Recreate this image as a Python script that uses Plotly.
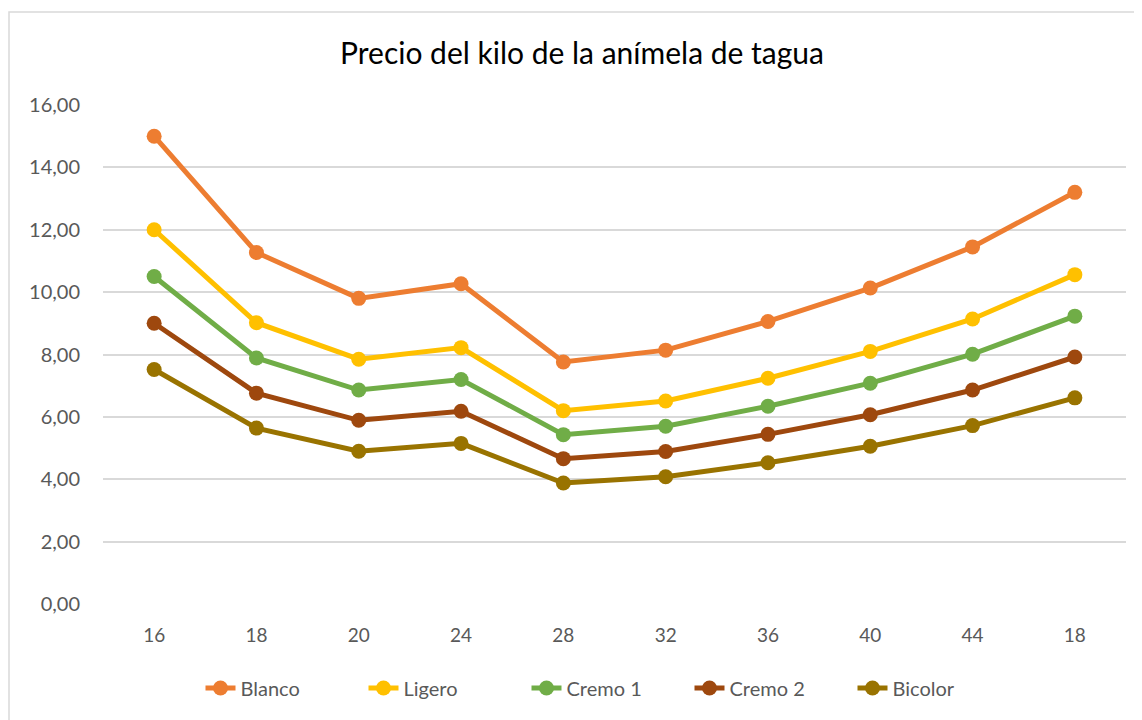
import plotly.graph_objects as go

# x categories (the last "18" is a repeated label in the source)
calibres = ["16", "18", "20", "24", "28", "32", "36", "40", "44", "18"]

blanco   = [15.00, 11.27, 9.80, 10.27, 7.76, 8.14, 9.06, 10.13, 11.45, 13.20]
ligero   = [12.00, 9.02, 7.85, 8.22, 6.20, 6.51, 7.24, 8.10, 9.14, 10.56]
cremo_1  = [10.50, 7.89, 6.86, 7.20, 5.43, 5.70, 6.34, 7.08, 8.01, 9.23]
cremo_2  = [9.00, 6.76, 5.89, 6.18, 4.66, 4.89, 5.44, 6.07, 6.86, 7.92]
bicolor  = [7.52, 5.64, 4.90, 5.15, 3.88, 4.08, 4.53, 5.06, 5.72, 6.61]

series = [
    ("Blanco",  blanco,  "#ED7D31"),
    ("Ligero",  ligero,  "#FFC000"),
    ("Cremo 1", cremo_1, "#70AD47"),
    ("Cremo 2", cremo_2, "#9E480E"),
    ("Bicolor", bicolor, "#997300"),
]

FONT = "Lato, 'Open Sans', sans-serif"
# page body adds an 8px offset, so the figure is 8px smaller each way
W, H = 1134, 712
L, R, T, B = 95, 16, 97, 116
pw, ph = W - L - R, H - T - B

idx = list(range(len(calibres)))

fig = go.Figure()
for name, vals, color in series:
    fig.add_trace(go.Scatter(
        x=idx, y=vals, name=name, mode="lines+markers",
        line=dict(color=color, width=5),
        marker=dict(color=color, size=15),
    ))

# outer chart border (Excel chart area)
fig.add_shape(
    type="rect", xref="paper", yref="paper",
    x0=(1 - L) / pw, x1=(1160 - L) / pw,
    y0=(H - B - 740) / ph, y1=(H - B - 4) / ph,
    line=dict(color="#D9D9D9", width=1.5), layer="below",
)

fig.update_layout(
    width=W, height=H,
    margin=dict(l=L, r=R, t=T, b=B),
    paper_bgcolor="white", plot_bgcolor="white",
    separators=",.",
    font=dict(family=FONT, color="#595959", size=19),
    title=dict(text="Precio del kilo de la anímela de tagua",
               font=dict(size=30, color="#000000", family=FONT),
               xref="container", x=574 / W, xanchor="center",
               yref="container", y=1 - 45 / H, yanchor="middle"),
    xaxis=dict(tickvals=idx, ticktext=calibres, range=[-0.5, len(idx) - 0.5],
               showgrid=False, zeroline=False, showline=False,
               ticks="", ticklabelstandoff=18,
               tickfont=dict(size=19, color="#595959")),
    yaxis=dict(range=[0, 16], dtick=2, tickformat=".2f",
               gridcolor="#D9D9D9", gridwidth=1.5, zeroline=False,
               showline=False, ticks="", ticklabelstandoff=22,
               tickfont=dict(size=20, color="#595959")),
    legend=dict(orientation="h", xref="container", x=600 / W, xanchor="center",
                yref="container", y=1 - 680 / H, yanchor="middle",
                font=dict(size=20, color="#595959"),
                entrywidth=118, entrywidthmode="pixels"),
    showlegend=True,
)

fig.write_html("out.html")
